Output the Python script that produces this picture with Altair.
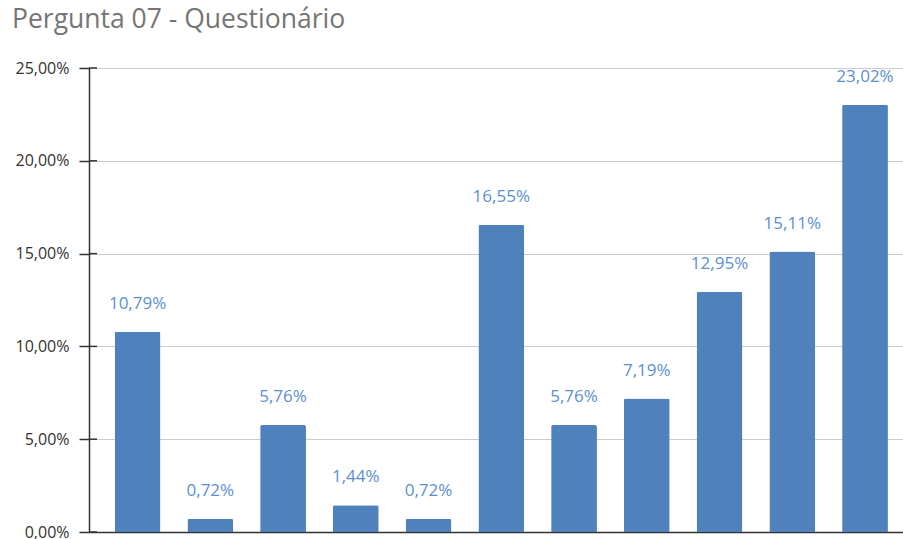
import altair as alt
import pandas as pd

categories = ["Opção 1", "Opção 2", "Opção 3", "Opção 4", "Opção 5", "Opção 6",
              "Opção 7", "Opção 8", "Opção 9", "Opção 10", "Opção 11"]
values = [10.79, 0.72, 5.76, 1.44, 0.72, 16.55, 5.76, 7.19, 12.95, 15.11, 23.02]
y_ticks = [0, 5, 10, 15, 20, 25]

df = pd.DataFrame({"cat": categories, "val": values})
df["label"] = [f"{v:.2f}".replace(".", ",") + "%" for v in values]
ticks_df = pd.DataFrame({"t": y_ticks})

FONT = "Open Sans"

x_enc = alt.X("cat:N", sort=categories, title=None,
              scale=alt.Scale(paddingInner=0.37, paddingOuter=0.28, align=0.63),
              axis=alt.Axis(labels=False, ticks=False, domainColor="#333333",
                            domainWidth=1.5))
y_scale = alt.Scale(domain=[0, 25], nice=False)

bars = alt.Chart(df).mark_bar(color="#4F81BD", cornerRadiusTopLeft=2,
                              cornerRadiusTopRight=2).encode(
    x=x_enc,
    y=alt.Y("val:Q", scale=y_scale, title=None,
            axis=alt.Axis(values=y_ticks, tickSize=10, tickColor="#333333",
                          tickWidth=1.5, domainColor="#333333", domainWidth=1.5,
                          gridColor="#cccccc", labelColor="#333333",
                          labelFont=FONT, labelFontSize=16, labelPadding=10,
                          labelExpr="replace(format(datum.value, '.2f'), '.', ',') + '%'")),
)

labels = alt.Chart(df).mark_text(color="#5B8FD3", font=FONT, fontSize=17,
                                 baseline="alphabetic", dy=-23).encode(
    x=alt.X("cat:N", sort=categories),
    y=alt.Y("val:Q", scale=y_scale),
    text="label:N",
)

inner_ticks = alt.Chart(ticks_df).mark_rule(color="#333333", strokeWidth=1.5).encode(
    x=alt.value(0), x2=alt.value(8),
    y=alt.Y("t:Q", scale=y_scale),
)

chart = alt.layer(bars, labels, inner_ticks).properties(
    width=814, height=464,
    padding={"left": 89, "top": 68, "right": 0, "bottom": 7},
    autosize=alt.AutoSizeParams(type="none"),
    title=alt.TitleParams("Pergunta 07 - Questionário", anchor="start",
                          frame="group", dx=-77, dy=3, offset=30, baseline="top",
                          font=FONT, fontSize=26.5, fontWeight="normal",
                          color="#757575"),
).configure_view(stroke=None)

chart.save("out.html", embed_options={"renderer": "svg", "actions": False})
